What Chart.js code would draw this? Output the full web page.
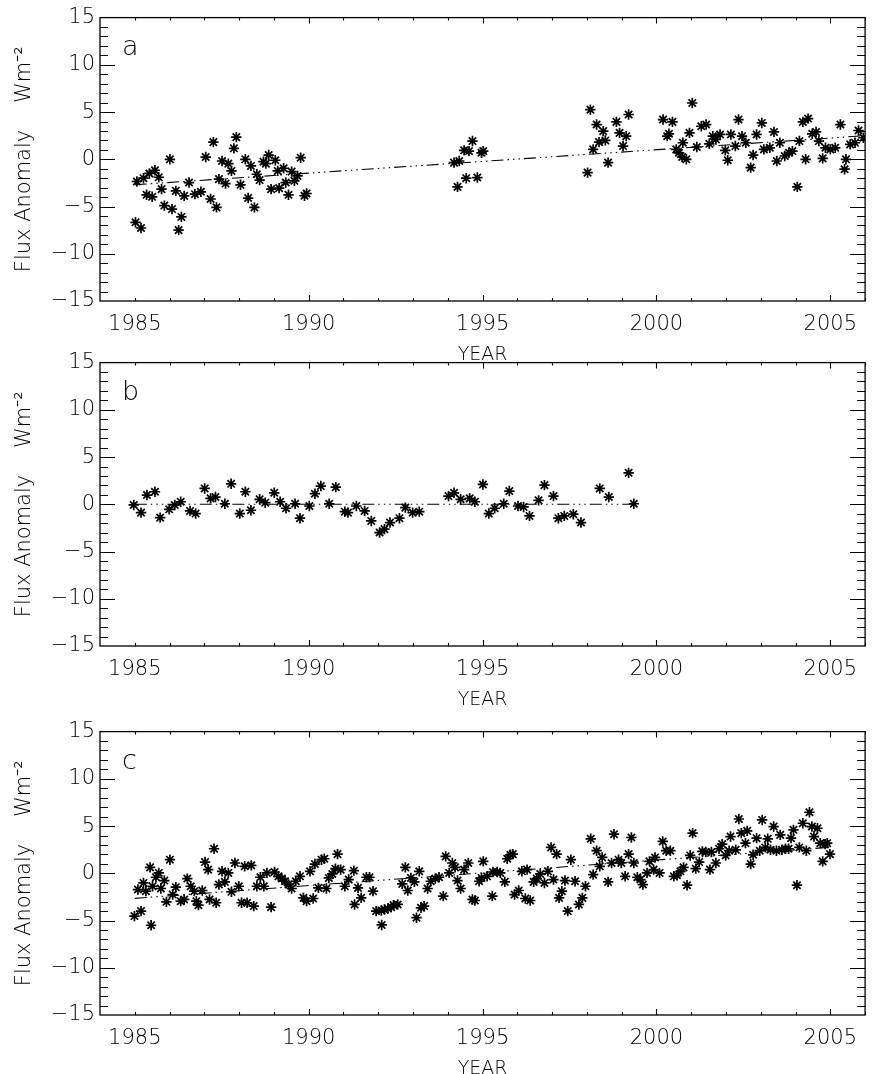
<!DOCTYPE html>
<html>
<head>
<meta charset="utf-8">
<script src="https://cdn.jsdelivr.net/npm/chart.js@4.4.1/dist/chart.umd.min.js"></script>
<style>
  html, body { margin: 0; padding: 0; background: #fff; overflow: hidden; }
  body { width: 872px; height: 1074px; position: relative; }
  canvas { position: absolute; left: 0; }
</style>
</head>
<body>
<canvas id="panelA" width="872" height="372" style="top:0px"></canvas>
<canvas id="panelB" width="872" height="372" style="top:345px"></canvas>
<canvas id="panelC" width="872" height="372" style="top:714px"></canvas>
<script>
// Axes
const xLabelYears = [1985, 1990, 1995, 2000, 2005];
const xMajorTickYears = [1990, 1995, 2000, 2005];
const yTickValues = [-15, -10, -5, 0, 5, 10, 15];

// Panel a
const aYear = [
  1985.02, 1985.06, 1985.18, 1985.25, 1985.34, 1985.42, 1985.50, 1985.58, 1985.69, 1985.77,
  1985.85, 1986.01, 1986.07, 1986.18, 1986.26, 1986.34, 1986.42, 1986.56, 1986.73, 1986.90,
  1987.04, 1987.18, 1987.26, 1987.35, 1987.42, 1987.51, 1987.61, 1987.69, 1987.78, 1987.85,
  1987.92, 1988.04, 1988.18, 1988.26, 1988.34, 1988.44, 1988.51, 1988.59, 1988.70, 1988.77,
  1988.85, 1988.92, 1989.04, 1989.11, 1989.15, 1989.28, 1989.34, 1989.42, 1989.51, 1989.59,
  1989.68, 1989.77, 1989.88, 1989.94,
  1994.18, 1994.28, 1994.33, 1994.47, 1994.53, 1994.61, 1994.71, 1994.85, 1994.97, 1995.02,
  1998.02, 1998.10, 1998.18, 1998.28, 1998.35, 1998.47, 1998.53, 1998.61, 1998.85, 1998.94,
  1999.04, 1999.13, 1999.20,
  2000.19, 2000.31, 2000.36, 2000.46, 2000.57, 2000.65, 2000.74, 2000.76, 2000.86, 2000.95,
  2001.03, 2001.16, 2001.29, 2001.43, 2001.52, 2001.62, 2001.71, 2001.83, 2001.98, 2002.05,
  2002.14, 2002.27, 2002.36, 2002.46, 2002.57, 2002.71, 2002.78, 2002.88, 2003.03, 2003.09,
  2003.26, 2003.38, 2003.46, 2003.55, 2003.69, 2003.81, 2003.91, 2004.05, 2004.11, 2004.21,
  2004.29, 2004.36, 2004.48, 2004.59, 2004.67, 2004.78, 2004.86, 2005.00, 2005.14, 2005.29,
  2005.41, 2005.45, 2005.57, 2005.71, 2005.81, 2005.95
];
const aFlux = [
  -6.67, -2.35, -7.27, -2.0, -3.76, -1.5, -3.97, -1.16, -1.9, -3.16,
  -4.9, 0.0, -5.27, -3.34, -7.5, -6.1, -3.87, -2.46, -3.69, -3.44,
  0.24, -4.2, 1.82, -5.09, -2.1, -0.18, -2.57, -0.46, -1.23, 1.16,
  2.35, -2.7, 0.0, -4.1, -0.7, -5.09, -1.58, -2.2, -0.25, -0.46,
  0.45, -3.16, -0.1, -1.23, -3.05, -0.95, -2.46, -3.76, -1.3, -2.28,
  -1.76, 0.17, -3.86, -3.62,
  -0.35, -2.92, -0.18, 0.95, -2.0, 0.87, 1.93, -1.93, 0.69, 0.87,
  -1.41, 5.26, 1.05, 3.68, 1.82, 2.98, 2.0, -0.35, 3.96, 2.8,
  1.4, 2.45, 4.74,
  4.21, 2.45, 2.7, 3.96, 1.05, 0.69, 0.24, 1.75, 0.0, 2.8,
  5.96, 1.3, 3.5, 3.68, 1.64, 2.45, 2.1, 2.63, 0.95, -0.1,
  2.63, 1.4, 4.21, 2.45, 1.75, -0.88, 0.45, 2.63, 3.85, 1.05,
  1.22, 2.9, -0.18, 1.75, 0.35, 0.69, 0.87, -2.92, 1.93, 3.96,
  0.0, 4.31, 2.7, 2.9, 1.93, 0.1, 1.22, 1.05, 1.22, 3.68,
  -1.05, 0.0, 1.58, 1.75, 3.05, 2.28
];
const aTrendYear = [1985, 2006];
const aTrendFlux = [-2.7, 2.5];

// Panel b
const bYear = [
  1984.97, 1985.18, 1985.35, 1985.58, 1985.73, 1985.99, 1986.15, 1986.32, 1986.59, 1986.75,
  1987.01, 1987.18, 1987.32, 1987.59, 1987.77, 1988.02, 1988.18, 1988.34, 1988.59, 1988.75,
  1989.01, 1989.18, 1989.35, 1989.61, 1989.75, 1990.02, 1990.18, 1990.35, 1990.59, 1990.78,
  1991.04, 1991.13, 1991.37, 1991.61, 1991.80, 1992.04, 1992.18, 1992.34, 1992.61, 1992.78,
  1992.99, 1993.18,
  1994.02, 1994.18, 1994.37, 1994.63, 1994.78, 1995.01, 1995.18, 1995.35, 1995.61, 1995.77,
  1996.02, 1996.18, 1996.35, 1996.61, 1996.78, 1997.04, 1997.18, 1997.35, 1997.61, 1997.83,
  1998.37, 1998.63, 1999.20, 1999.35
];
const bFlux = [
  -0.07, -0.88, 0.98, 1.33, -1.41, -0.53, -0.07, 0.27, -0.7, -0.98,
  1.68, 0.63, 0.77, 0.06, 2.17, -0.98, 1.33, -0.63, 0.53, 0.17,
  1.22, 0.27, -0.42, 0.06, -1.47, -0.18, 1.12, 1.93, 0.06, 1.82,
  -0.78, -0.88, -0.18, -0.7, -1.76, -2.99, -2.63, -1.93, -1.47, -0.35,
  -0.88, -0.78,
  0.87, 1.22, 0.53, 0.63, 0.27, 2.1, -0.98, -0.42, 0.06, 1.4,
  -0.18, -0.28, -1.23, 0.42, 2.03, 0.87, -1.47, -1.23, -1.05, -1.93,
  1.68, 0.77, 3.33, 0.06
];
const bTrendYear = [1985, 1999.4];
const bTrendFlux = [0.0, 0.0];

// Panel c
const cYear = [
  1984.99, 1985.09, 1985.18, 1985.25, 1985.32, 1985.44, 1985.47, 1985.51, 1985.61, 1985.69,
  1985.75, 1985.85, 1985.91, 1986.01, 1986.09, 1986.18, 1986.32, 1986.42, 1986.51, 1986.61,
  1986.71, 1986.77, 1986.83, 1986.94, 1987.02, 1987.11, 1987.15, 1987.28, 1987.34, 1987.42,
  1987.51, 1987.59, 1987.69, 1987.78, 1987.88, 1987.99, 1988.07, 1988.16, 1988.23, 1988.35,
  1988.42, 1988.51, 1988.61, 1988.71, 1988.80, 1988.92, 1989.02, 1989.13, 1989.23, 1989.32,
  1989.42, 1989.51, 1989.63, 1989.75, 1989.85, 1989.94, 1990.04, 1990.13, 1990.18, 1990.28,
  1990.37, 1990.45, 1990.51, 1990.58, 1990.68, 1990.77, 1990.83, 1990.92, 1991.04, 1991.15,
  1991.30, 1991.32, 1991.42, 1991.51, 1991.66, 1991.75, 1991.85, 1991.94, 1992.09, 1992.10,
  1992.18, 1992.28, 1992.37, 1992.44, 1992.56, 1992.69, 1992.78, 1992.85, 1992.94, 1993.04,
  1993.10, 1993.18, 1993.23, 1993.32, 1993.42, 1993.51, 1993.64, 1993.75, 1993.87, 1993.94,
  1994.04, 1994.13, 1994.21, 1994.28, 1994.37, 1994.47, 1994.59, 1994.71, 1994.78, 1994.90,
  1994.97, 1995.02, 1995.13, 1995.28, 1995.30, 1995.42, 1995.51, 1995.64, 1995.71, 1995.80,
  1995.87, 1995.92, 1996.04, 1996.13, 1996.23, 1996.28, 1996.37, 1996.47, 1996.56, 1996.66,
  1996.78, 1996.88, 1996.97, 1997.04, 1997.13, 1997.20, 1997.28, 1997.37, 1997.45, 1997.54,
  1997.66, 1997.77, 1997.87, 1997.96, 1998.11, 1998.18, 1998.28, 1998.37, 1998.44, 1998.61,
  1998.71, 1998.78, 1998.91, 1998.99, 1999.10, 1999.20, 1999.28, 1999.35, 1999.45, 1999.54,
  1999.61, 1999.73, 1999.80, 1999.92, 1999.96, 2000.09, 2000.18, 2000.28, 2000.40, 2000.50,
  2000.59, 2000.69, 2000.78, 2000.88, 2000.97, 2001.04, 2001.13, 2001.23, 2001.32, 2001.42,
  2001.54, 2001.58, 2001.71, 2001.80, 2001.89, 2001.99, 2002.09, 2002.13, 2002.28, 2002.37,
  2002.44, 2002.56, 2002.61, 2002.71, 2002.78, 2002.88, 2002.97, 2003.04, 2003.13, 2003.20,
  2003.28, 2003.37, 2003.45, 2003.56, 2003.61, 2003.71, 2003.80, 2003.87, 2003.94, 2004.04,
  2004.11, 2004.21, 2004.31, 2004.40, 2004.47, 2004.53, 2004.63, 2004.71, 2004.78, 2004.85,
  2004.91, 2004.99
];
const cFlux = [
  -4.53, -1.72, -4.0, -1.02, -1.89, 0.63, -5.5, -1.37, -0.42, 0.04,
  -1.61, -0.77, -3.02, 1.44, -2.25, -1.47, -2.95, -2.77, -0.56, -1.37,
  -1.89, -2.95, -3.37, -1.82, 1.19, 0.39, -2.77, 2.6, -3.12, -1.19,
  0.21, -0.91, 0.04, -1.96, 1.09, -1.37, -3.12, 0.74, -3.12, 0.84,
  -3.47, -1.37, -0.42, -1.37, 0.04, -3.58, 0.14, -0.32, -0.56, -0.84,
  -1.19, -1.61, -0.84, -0.32, -2.6, -2.95, 0.21, -2.67, 0.98, -1.54,
  1.44, 1.54, -1.61, -0.49, -0.07, 0.49, 2.03, 0.39, -1.37, -0.66,
  0.28, -3.3, -1.54, -2.6, -0.42, -0.42, -1.89, -4.0, -3.93, -5.47,
  -3.82, -3.72, -3.58, -3.37, -3.3, -1.12, 0.63, -1.82, -0.49, -0.91,
  -4.7, 0.21, -3.65, -3.47, -1.61, -0.84, -0.56, -0.42, -2.42, 1.79,
  0.04, 1.09, 0.63, -0.77, -1.61, 0.39, 1.09, -2.77, -2.88, -0.84,
  -0.49, 1.26, -0.32, -2.42, 0.14, 0.14, 0.04, -0.91, 1.54, 1.96,
  2.03, -2.25, -1.82, 0.21, -2.67, 0.39, -2.88, -0.91, -0.56, -0.07,
  -1.02, 0.21, 2.74, -0.66, 2.03, -2.6, -1.89, -0.77, -4.0, 1.44,
  -0.84, -3.3, -2.6, -1.37, 3.65, -0.14, 2.39, 0.74, 1.68, -0.91,
  1.09, 4.14, 1.44, 1.09, -0.32, 2.03, 3.79, 1.09, -0.42, -0.66,
  -1.19, 0.04, 1.26, 0.39, 1.68, 0.04, 3.37, 2.39, 2.39, -0.32,
  -0.21, 0.21, 0.63, -1.26, 1.89, 4.25, 0.49, 1.19, 2.32, 2.25,
  0.39, 2.25, 1.09, 2.6, 3.09, 1.89, 2.39, 3.89, 2.49, 5.75,
  4.25, 3.19, 4.49, 0.98, 1.96, 3.72, 2.39, 5.65, 2.74, 3.65,
  2.49, 4.95, 2.39, 4.07, 2.49, 2.6, 2.6, 3.72, 4.6, -1.26,
  2.74, 5.3, 2.39, 6.46, 4.95, 3.89, 4.77, 3.19, 1.26, 3.09,
  3.19, 2.03
];
const cTrendYear = [1985, 2005];
const cTrendFlux = [-2.65, 2.75];

const FONT = '"DejaVu Sans", "Liberation Sans", sans-serif';

// inward ticks on all four sides, plot frame and panel letter
const framePlugin = {
  id: 'frame',
  afterDatasetsDraw(chart, args, opts) {
    const { ctx, chartArea: area, scales: { x, y } } = chart;
    ctx.save();
    ctx.strokeStyle = '#000';
    ctx.lineWidth = 1.3;
    ctx.strokeRect(area.left, area.top, area.right - area.left, area.bottom - area.top);
    ctx.lineWidth = 1.1;
    ctx.beginPath();
    for (let yr = 1985; yr <= 2006; yr++) {
      const px = Math.round(x.getPixelForValue(yr)) + 0.5;
      const len = xMajorTickYears.includes(yr) ? 6 : 3;
      ctx.moveTo(px, area.bottom); ctx.lineTo(px, area.bottom - len);
      ctx.moveTo(px, area.top); ctx.lineTo(px, area.top + len);
    }
    for (let v = -14; v <= 14; v++) {
      const py = Math.round(y.getPixelForValue(v)) + 0.5;
      const len = v % 5 === 0 ? 15 : 8;
      ctx.moveTo(area.left, py); ctx.lineTo(area.left + len, py);
      ctx.moveTo(area.right, py); ctx.lineTo(area.right - len, py);
    }
    ctx.stroke();
    ctx.fillStyle = '#000';
    ctx.font = '200 27px ' + FONT;
    ctx.textBaseline = 'alphabetic';
    ctx.textAlign = 'left';
    ctx.fillText(opts.letter, area.left + 22, area.top + 37);
    ctx.restore();
  }
};

function makePanel(id, letter, years, flux, trendYears, trendFlux) {
  const points = years.map((yr, i) => ({ x: yr, y: flux[i] }));
  const trend = trendYears.map((yr, i) => ({ x: yr, y: trendFlux[i] }));
  return new Chart(document.getElementById(id), {
    type: 'scatter',
    data: {
      datasets: [
        {
          data: points,
          pointStyle: 'star',
          pointRadius: 5.2,
          pointBorderWidth: 1.7,
          borderColor: '#000',
          backgroundColor: '#000'
        },
        {
          data: trend,
          showLine: true,
          pointRadius: 0,
          borderColor: '#000',
          borderWidth: 1.1,
          borderDash: [12, 4, 1.5, 4, 1.5, 4, 1.5, 4]
        }
      ]
    },
    options: {
      responsive: false,
      animation: false,
      events: [],
      layout: { padding: { top: 16, right: 1, left: 0, bottom: 0 } },
      plugins: {
        legend: { display: false },
        tooltip: { enabled: false },
        frame: { letter: letter }
      },
      scales: {
        x: {
          type: 'linear',
          min: 1984,
          max: 2006,
          grid: { display: false, drawTicks: false },
          border: { display: false },
          afterBuildTicks: s => { s.ticks = xLabelYears.map(v => ({ value: v })); },
          afterFit: s => { s.height = 71; },
          ticks: {
            padding: 11,
            maxRotation: 0,
            autoSkip: false,
            color: '#000',
            font: { family: FONT, size: 21, weight: '200' },
            callback: v => String(v)
          },
          title: {
            display: true,
            text: 'YEAR',
            color: '#000',
            padding: { top: 0, bottom: 6 },
            font: { family: FONT, size: 19, weight: '200' }
          }
        },
        y: {
          min: -15,
          max: 15,
          grid: { display: false, drawTicks: false },
          border: { display: false },
          afterBuildTicks: s => { s.ticks = yTickValues.map(v => ({ value: v })); },
          afterFit: s => { s.width = 100; },
          ticks: {
            padding: 5,
            autoSkip: false,
            color: '#000',
            font: { family: FONT, size: 21, weight: '200' },
            callback: v => (v < 0 ? '\u2212' + Math.abs(v) : String(v))
          },
          title: {
            display: true,
            text: 'Flux Anomaly    Wm\u207B\u00B2',
            color: '#000',
            padding: { top: 12, bottom: 0 },
            font: { family: FONT, size: 21, weight: '200' }
          }
        }
      }
    },
    plugins: [framePlugin]
  });
}

makePanel('panelA', 'a', aYear, aFlux, aTrendYear, aTrendFlux);
makePanel('panelB', 'b', bYear, bFlux, bTrendYear, bTrendFlux);
makePanel('panelC', 'c', cYear, cFlux, cTrendYear, cTrendFlux);
</script>
</body>
</html>
